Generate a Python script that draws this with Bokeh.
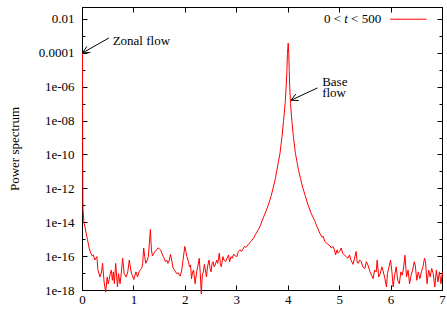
from bokeh.plotting import figure
from bokeh.models import (Range1d, FixedTicker, LinearAxis, LogAxis,
                          CustomJSTickFormatter, Label, Arrow, OpenHead)
from bokeh.embed import file_html
from bokeh.resources import INLINE

# ---------------- data ----------------
series_name_parts = ["0 <\u00a0", "t", "\u00a0< 500"]

freq = [
    0.000, 0.004, 0.010, 0.025, 0.045, 0.07, 0.097, 0.13, 0.16, 0.19,
    0.21, 0.24, 0.28, 0.30, 0.34, 0.37, 0.39, 0.42, 0.45, 0.48,
    0.50, 0.52, 0.54, 0.56, 0.58, 0.60, 0.62, 0.645, 0.68, 0.70,
    0.73, 0.75, 0.78, 0.81, 0.85, 0.88, 0.91, 0.94, 0.96, 1.00,
    1.02, 1.04, 1.07, 1.10, 1.12, 1.15, 1.17, 1.19, 1.21, 1.23,
    1.26, 1.28, 1.30, 1.32, 1.34, 1.36, 1.39, 1.41, 1.44, 1.47,
    1.50, 1.52, 1.55, 1.57, 1.59, 1.61, 1.64, 1.66, 1.69, 1.71,
    1.74, 1.76, 1.79, 1.81, 1.83, 1.86, 1.90, 1.93, 1.95, 1.99,
    2.01, 2.03, 2.06, 2.08, 2.10, 2.12, 2.14, 2.16, 2.19, 2.22,
    2.24, 2.27, 2.29, 2.31, 2.33, 2.35, 2.37, 2.39, 2.41, 2.43,
    2.46, 2.48, 2.50, 2.52, 2.54, 2.56, 2.58, 2.61, 2.63, 2.66,
    2.68, 2.70, 2.73, 2.75, 2.78, 2.81, 2.84, 2.86, 2.89, 2.91,
    2.94, 2.97, 3.00, 3.03, 3.06, 3.09, 3.12, 3.15, 3.18, 3.22,
    3.26, 3.29, 3.33, 3.36, 3.39, 3.43, 3.46, 3.49, 3.53, 3.57,
    3.62, 3.67, 3.71, 3.75, 3.78, 3.81, 3.84, 3.88, 3.91, 3.94,
    3.96, 3.975, 3.985, 4.00, 4.01, 4.02, 4.03, 4.045, 4.07, 4.10,
    4.14, 4.17, 4.20, 4.24, 4.28, 4.33, 4.38, 4.44, 4.51, 4.57,
    4.62, 4.66, 4.68, 4.71, 4.75, 4.78, 4.81, 4.84, 4.87, 4.90,
    4.92, 4.95, 4.97, 5.00, 5.03, 5.06, 5.09, 5.13, 5.16, 5.19,
    5.22, 5.26, 5.29, 5.32, 5.34, 5.36, 5.39, 5.42, 5.45, 5.49,
    5.52, 5.55, 5.59, 5.62, 5.65, 5.68, 5.71, 5.73, 5.76, 5.79,
    5.82, 5.85, 5.88, 5.91, 5.93, 5.96, 5.99, 6.02, 6.04, 6.07,
    6.10, 6.13, 6.16, 6.19, 6.22, 6.25, 6.27, 6.30, 6.33, 6.36,
    6.39, 6.42, 6.45, 6.47, 6.50, 6.53, 6.56, 6.59, 6.62, 6.65,
    6.67, 6.70, 6.73, 6.76, 6.79, 6.82, 6.85, 6.88, 6.91, 6.94,
    6.97, 7.00,
]

power = [
    1e-4, 1e-11, 6.3e-14, 1.26e-14, 6.3e-15, 2.5e-15, 1e-15, 3.2e-16, 1.6e-16, 1.1e-16,
    1.26e-16, 6.3e-17, 1e-16, 1.6e-17, 6.3e-18, 1.26e-17, 4e-17, 3.2e-18, 8e-19, 6.3e-18,
    2.5e-18, 4.5e-18, 1e-17, 1.6e-17, 4e-18, 1.26e-17, 2.5e-18, 4e-17, 1.6e-18, 1e-17,
    2.5e-18, 8e-18, 8e-17, 1e-17, 6.3e-18, 1.26e-17, 6.3e-17, 1.6e-17, 9e-18, 4.5e-18,
    8e-18, 1.26e-17, 6.3e-18, 1.26e-17, 1.6e-17, 2e-17, 4e-17, 3.2e-16, 1e-16, 4e-17,
    6.3e-17, 1e-16, 6.3e-16, 4e-15, 2.5e-16, 1.1e-16, 1.6e-16, 2e-16, 2.5e-16, 3.3e-16,
    2.8e-16, 2.5e-16, 1.4e-16, 1e-16, 8e-17, 5e-17, 6.3e-17, 4e-17, 6.3e-17, 1.35e-16,
    5e-17, 2.2e-17, 1.6e-17, 1.26e-17, 1e-17, 1.1e-17, 7e-18, 1.6e-17, 5e-17, 4e-16,
    2e-16, 1e-16, 5e-17, 2.5e-17, 3.2e-17, 5e-18, 1.26e-17, 1.6e-17, 2.5e-18, 1.26e-17,
    2.5e-17, 8e-17, 1e-17, 6.3e-19, 8e-18, 1.26e-17, 3.5e-17, 1.6e-17, 6.3e-18, 2.5e-17,
    6.3e-17, 2e-17, 1.26e-17, 4e-17, 5e-17, 2.5e-17, 3.2e-17, 6.3e-17, 4e-17, 1.6e-16,
    4e-17, 2.5e-17, 1e-16, 6.3e-17, 5e-17, 8e-17, 1.26e-16, 5e-17, 1e-16, 8e-17,
    1.4e-16, 1.1e-16, 1e-16, 2e-16, 2.5e-16, 2e-16, 2.8e-16, 4e-16, 3.5e-16, 5e-16,
    7e-16, 9e-16, 1.26e-15, 2e-15, 2.8e-15, 4.5e-15, 7e-15, 1.26e-14, 2.5e-14, 5e-14,
    1.26e-13, 4e-13, 1.26e-12, 4e-12, 1.26e-11, 4e-11, 1.26e-10, 1.26e-9, 1.1e-8, 1.1e-7,
    1e-6, 1e-5, 1e-4, 4e-4, 1e-4, 1e-5, 1e-6, 1.1e-7, 1.1e-8, 1.26e-9,
    1.26e-10, 4e-11, 1.26e-11, 4e-12, 1.26e-12, 4e-13, 1.26e-13, 4e-14, 1.4e-14, 5e-15,
    2.2e-15, 1.4e-15, 1.6e-15, 8e-16, 6.3e-16, 5e-16, 4.5e-16, 3.2e-16, 4e-16, 2.5e-16,
    1.26e-16, 2.5e-16, 1.6e-16, 2e-16, 3.2e-16, 1.6e-16, 1.26e-16, 1e-16, 8e-17, 1.26e-16,
    6.3e-17, 3.5e-17, 8e-17, 2e-16, 5e-17, 4e-17, 6.3e-17, 5e-17, 2.5e-17, 2e-17,
    5e-17, 3.2e-17, 1.26e-17, 8e-18, 5e-18, 1.6e-17, 1.26e-17, 6.3e-17, 6.3e-18, 1e-17,
    2.5e-17, 1.26e-17, 5e-18, 1.6e-18, 1e-17, 2.5e-17, 6.3e-17, 1e-17, 1.6e-18, 8e-18,
    2.5e-17, 4e-18, 2.5e-18, 1.26e-17, 8e-18, 3.2e-17, 1.2e-16, 6.3e-18, 1.6e-17, 2.5e-18,
    8e-18, 1.6e-17, 5e-17, 3.2e-17, 4e-18, 1.26e-17, 5e-18, 1.26e-17, 2.5e-17, 8e-17,
    5e-17, 2.5e-18, 1.6e-17, 6.3e-18, 2e-17, 1e-17, 1.6e-18, 1.6e-17, 3.2e-18, 1.26e-17,
    2.5e-18, 1.26e-17,
]

x_ticks = [0, 1, 2, 3, 4, 5, 6, 7]
y_tick_values = [1e-18, 1e-16, 1e-14, 1e-12, 1e-10, 1e-8, 1e-6, 1e-4, 1e-2]
y_tick_labels = ["1e-18", "1e-16", "1e-14", "1e-12", "1e-10", "1e-08", "1e-06", "0.0001", "0.01"]
y_minor_values = [1e-17, 1e-15, 1e-13, 1e-11, 1e-9, 1e-7, 1e-5, 1e-3, 1e-1]

x_label_parts = ["Frequency\u00a0", "f"]
y_label = "Power spectrum"

# ---------------- figure ----------------
FONT = "'Liberation Serif', 'Times New Roman', serif"
FS = "13px"

p = figure(width=447, height=331, output_backend="svg", toolbar_location=None,
           x_range=Range1d(0, 7), y_range=Range1d(1e-18, 0.051),
           y_axis_type="log",
           min_border_left=82, min_border_right=5, min_border_top=7, min_border_bottom=41)
p.grid.visible = False
p.outline_line_color = "black"
p.outline_line_width = 1
p.background_fill_color = "white"
p.border_fill_color = "white"

label_fmt = CustomJSTickFormatter(args=dict(vals=y_tick_values, labels=y_tick_labels), code="""
for (let i = 0; i < vals.length; i++) {
  if (Math.abs(Math.log10(vals[i]) - Math.log10(tick)) < 1e-6) return labels[i];
}
return "";
""")
empty_fmt = CustomJSTickFormatter(code="return '';")


def style(ax, show_labels=True):
    ax.axis_line_color = "black"
    ax.major_tick_line_color = "black"
    ax.minor_tick_line_color = "black"
    ax.major_tick_in = 5
    ax.major_tick_out = 0
    ax.minor_tick_in = 3
    ax.minor_tick_out = 0
    ax.major_label_text_font = FONT
    ax.major_label_text_font_size = FS if show_labels else "0px"
    ax.major_label_text_color = "black"
    ax.axis_label_text_font = FONT
    ax.axis_label_text_font_size = FS
    ax.axis_label_text_font_style = "normal"
    ax.axis_label_text_color = "black"
    if not show_labels:
        ax.major_label_standoff = 0


xa = p.xaxis[0]
xa.ticker = FixedTicker(ticks=x_ticks)
style(xa)
xa.major_label_standoff = 5

ya = p.yaxis[0]
ya.ticker = FixedTicker(ticks=y_tick_values, minor_ticks=y_minor_values)
ya.formatter = label_fmt
style(ya)
ya.major_label_standoff = 8
ya.axis_label = y_label
ya.axis_label_standoff = 14

top = LinearAxis(ticker=FixedTicker(ticks=x_ticks), formatter=empty_fmt)
style(top, False)
p.add_layout(top, "above")

right = LogAxis(ticker=FixedTicker(ticks=y_tick_values, minor_ticks=y_minor_values),
                formatter=empty_fmt)
style(right, False)
p.add_layout(right, "right")

# spectrum (drawn above the axes, as gnuplot does)
r = p.line(freq, power, line_color="#ff0000", line_width=1)
r.level = "overlay"

# ---------------- annotations ----------------
def lab(x, y, text, align="left", style="normal", x_offset=0):
    p.add_layout(Label(x=x, y=y, text=text, text_font=FONT, text_font_size=FS,
                       text_font_style=style, text_align=align, text_baseline="middle",
                       text_color="black", x_offset=x_offset))

# legend (gnuplot style: text then sample)
lab(5.808, 0.0111, series_name_parts[2], align="right")
lab(5.808, 0.0111, series_name_parts[1], align="right", style="italic", x_offset=-33.3)
lab(5.808, 0.0111, series_name_parts[0], align="right", x_offset=-36.9)
p.add_layout(Arrow(end=None, x_start=5.98, y_start=0.0104, x_end=6.69, y_end=0.0104,
                   line_color="#ff0000", line_width=1))

# zonal flow
lab(0.586, 5.96e-4, "Zonal flow")
p.add_layout(Arrow(end=OpenHead(size=7, line_width=1, line_color="black"),
                   x_start=0.514, y_start=8.1e-4, x_end=0.0, y_end=1.06e-4,
                   line_color="black", line_width=1))

# base flow
lab(4.66, 2.25e-6, "Base")
lab(4.66, 4.57e-7, "flow")
p.add_layout(Arrow(end=OpenHead(size=7, line_width=1, line_color="black"),
                   x_start=4.57, y_start=9.1e-7, x_end=4.053, y_end=1.7e-7,
                   line_color="black", line_width=1))

# x axis label (with italic f)
lab(2.855, 1.17e-20, x_label_parts[0])
lab(3.983, 1.17e-20, x_label_parts[1], style="italic")

open("out.html", "w").write(file_html(p, INLINE))
